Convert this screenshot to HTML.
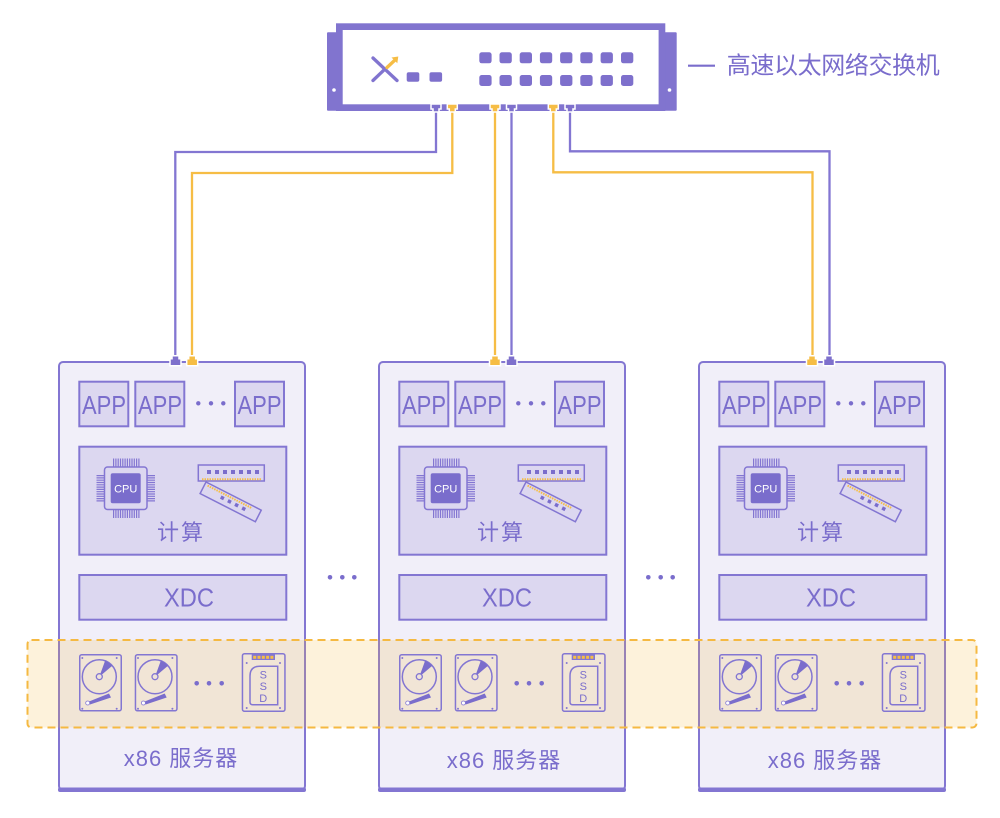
<!DOCTYPE html>
<html><head><meta charset="utf-8"><style>
html,body{margin:0;padding:0;background:#fff;}
svg{display:block;}
text{font-family:"Liberation Sans","Noto Sans CJK SC",sans-serif;fill:#7a6dcc;}
</style></head><body>
<svg width="1000" height="818" viewBox="0 0 1000 818" xmlns="http://www.w3.org/2000/svg">
<defs>
<g id="hdd">
  <rect x="0.75" y="0.75" width="41.5" height="56" rx="2" fill="none" stroke="#8376d2" stroke-width="1.5"/>
  <circle cx="3.3" cy="4" r="1" fill="#8376d2"/><circle cx="37.7" cy="4" r="1" fill="#8376d2"/>
  <circle cx="3.3" cy="54.7" r="1" fill="#8376d2"/><circle cx="37.7" cy="54.7" r="1" fill="#8376d2"/>
  <circle cx="20.3" cy="22.7" r="17" fill="none" stroke="#8376d2" stroke-width="1.5"/>
  <path d="M20.3,22.7 L26.1,6.7 A17,17 0 0 1 33.3,11.8 Z" fill="#7a6dcc"/>
  <circle cx="20.3" cy="22.7" r="3" fill="#efe3d9" stroke="#8376d2" stroke-width="1.3"/>
  <polygon points="10,47.5 30,39.5 32,43.5 11,50.5" fill="#7a6dcc"/>
  <circle cx="8.7" cy="49" r="2" fill="#fff" stroke="#8376d2" stroke-width="0.8"/>
</g>
</defs>

<!-- Switch -->
<rect x="327" y="32.3" width="12" height="78.4" rx="1" fill="#8174cf"/>
<rect x="662" y="32.3" width="14.7" height="78.4" rx="1" fill="#8174cf"/>
<circle cx="334" cy="90" r="1.8" fill="#fff"/>
<circle cx="669.5" cy="90" r="1.8" fill="#fff"/>
<rect x="339.35" y="26.65" width="322.6" height="81" fill="#fff" stroke="#8174cf" stroke-width="6.7"/>
<!-- logo -->
<line x1="373" y1="58" x2="397" y2="80.5" stroke="#8174cf" stroke-width="3.3" stroke-linecap="round"/>
<line x1="373" y1="80.5" x2="385" y2="69" stroke="#8174cf" stroke-width="3.3" stroke-linecap="round"/>
<line x1="387" y1="67.5" x2="395" y2="60" stroke="#f6bd45" stroke-width="3.3" stroke-linecap="round"/>
<polygon points="391.5,57.5 398.3,56.5 397.3,63.3" fill="#f6bd45"/>
<rect x="406.7" y="72.3" width="12.6" height="9.4" rx="2" fill="#7e70cc"/>
<rect x="429.5" y="72.3" width="12.6" height="9.4" rx="2" fill="#7e70cc"/>
<!-- port grid -->
<g fill="#7e70cc">
<rect x="479.3" y="52.3" width="12.3" height="11" rx="2.5"/><rect x="499.5" y="52.3" width="12.3" height="11" rx="2.5"/>
<rect x="519.7" y="52.3" width="12.3" height="11" rx="2.5"/><rect x="539.9" y="52.3" width="12.3" height="11" rx="2.5"/>
<rect x="560.1" y="52.3" width="12.3" height="11" rx="2.5"/><rect x="580.3" y="52.3" width="12.3" height="11" rx="2.5"/>
<rect x="600.6" y="52.3" width="12.3" height="11" rx="2.5"/><rect x="621" y="52.3" width="12.3" height="11" rx="2.5"/>
<rect x="479.3" y="75" width="12.3" height="11" rx="2.5"/><rect x="499.5" y="75" width="12.3" height="11" rx="2.5"/>
<rect x="519.7" y="75" width="12.3" height="11" rx="2.5"/><rect x="539.9" y="75" width="12.3" height="11" rx="2.5"/>
<rect x="560.1" y="75" width="12.3" height="11" rx="2.5"/><rect x="580.3" y="75" width="12.3" height="11" rx="2.5"/>
<rect x="600.6" y="75" width="12.3" height="11" rx="2.5"/><rect x="621" y="75" width="12.3" height="11" rx="2.5"/>
</g>

<!-- label -->
<line x1="688" y1="65.7" x2="715" y2="65.7" stroke="#7a6dcc" stroke-width="2.2"/>
<text x="726.7" y="73.5" font-size="24" textLength="213" lengthAdjust="spacing">高速以太网络交换机</text>

<!-- cables -->
<g fill="none" stroke-width="2.3">
<path d="M436,112 V152 H175.3 V356" stroke="#8376d2"/>
<path d="M452.3,112 V173 H192 V356" stroke="#f6bd45"/>
<path d="M495,112 V356" stroke="#f6bd45"/>
<path d="M511.5,112 V356" stroke="#8376d2"/>
<path d="M553.3,112 V172.3 H812.5 V356" stroke="#f6bd45"/>
<path d="M570,112 V151.3 H829.5 V356" stroke="#8376d2"/>
</g>
<!-- switch bottom ports -->
<g stroke="#fff" stroke-width="1.5">
<path d="M431,104 h10 v5 h-2 v3 h-6 v-3 h-2 z" fill="#7e70cc"/>
<path d="M447.3,104 h10 v5 h-2 v3 h-6 v-3 h-2 z" fill="#f6bd45"/>
<path d="M490,104 h10 v5 h-2 v3 h-6 v-3 h-2 z" fill="#f6bd45"/>
<path d="M506.5,104 h10 v5 h-2 v3 h-6 v-3 h-2 z" fill="#7e70cc"/>
<path d="M548.3,104 h10 v5 h-2 v3 h-6 v-3 h-2 z" fill="#f6bd45"/>
<path d="M565,104 h10 v5 h-2 v3 h-6 v-3 h-2 z" fill="#7e70cc"/>
</g>

<!-- SERVER 1 -->
<g id="srv1">
<rect x="59" y="362" width="246" height="428" rx="4" fill="#f1eff9" stroke="#8376d2" stroke-width="2"/>
<rect x="58" y="787.5" width="248" height="4.5" rx="2" fill="#8376d2"/>
<g fill="#dcd7f0" stroke="#8376d2" stroke-width="2">
<rect x="79.3" y="381.7" width="49" height="44.6"/>
<rect x="135.3" y="381.7" width="49" height="44.6"/>
<rect x="235" y="381.7" width="49" height="44.6"/>
<rect x="79.3" y="446.7" width="207" height="108"/>
<rect x="79.3" y="575" width="207" height="44.7"/>
</g>
<text x="104" y="414" font-size="26" text-anchor="middle" textLength="44" lengthAdjust="spacingAndGlyphs">APP</text>
<text x="160" y="414" font-size="26" text-anchor="middle" textLength="44" lengthAdjust="spacingAndGlyphs">APP</text>
<text x="259.5" y="414" font-size="26" text-anchor="middle" textLength="44" lengthAdjust="spacingAndGlyphs">APP</text>
<circle cx="198.3" cy="403.3" r="2.2" fill="#7a6dcc"/><circle cx="211" cy="403.3" r="2.2" fill="#7a6dcc"/><circle cx="223.3" cy="403.3" r="2.2" fill="#7a6dcc"/>
<!-- CPU -->
<g stroke="#8376d2" fill="none">
<line x1="113" y1="462.5" x2="140" y2="462.5" stroke-width="8" stroke-dasharray="1.2 1.1"/>
<line x1="113" y1="514" x2="140" y2="514" stroke-width="8" stroke-dasharray="1.2 1.1"/>
<line x1="100.5" y1="475" x2="100.5" y2="502" stroke-width="8" stroke-dasharray="1.2 1.1"/>
<line x1="151" y1="475" x2="151" y2="502" stroke-width="8" stroke-dasharray="1.2 1.1"/>
<rect x="104.5" y="467" width="42.5" height="42.5" rx="3" fill="#dcd7f0" stroke-width="1.5"/>
</g>
<rect x="110.7" y="473.3" width="30" height="30" rx="2" fill="#7a6dcc"/>
<text x="125.7" y="492.3" font-size="11" text-anchor="middle" style="fill:#fff">CPU</text>
<!-- RAM -->
<g transform="translate(206,482) rotate(27)">
<rect x="0" y="0" width="62" height="13" fill="#dcd7f0" stroke="#8376d2" stroke-width="1.5"/>
<line x1="3" y1="2.5" x2="52" y2="2.5" stroke="#f6bd45" stroke-width="2" stroke-dasharray="1.5 1"/>
<rect x="20" y="5" width="3.5" height="3.5" fill="#7a6dcc"/><rect x="28" y="5" width="3.5" height="3.5" fill="#7a6dcc"/>
<rect x="36" y="5" width="3.5" height="3.5" fill="#7a6dcc"/><rect x="44" y="5" width="3.5" height="3.5" fill="#7a6dcc"/>
</g>
<rect x="198.3" y="465" width="66" height="16" fill="#dcd7f0" stroke="#8376d2" stroke-width="1.5"/>
<line x1="202" y1="479.3" x2="261" y2="479.3" stroke="#f6bd45" stroke-width="2" stroke-dasharray="1.5 1"/>
<g fill="#7a6dcc">
<rect x="207" y="470" width="4" height="4"/><rect x="215" y="470" width="4" height="4"/><rect x="223" y="470" width="4" height="4"/>
<rect x="231" y="470" width="4" height="4"/><rect x="239" y="470" width="4" height="4"/><rect x="247" y="470" width="4" height="4"/><rect x="255" y="470" width="4" height="4"/>
</g>
<text x="181" y="540" font-size="22" text-anchor="middle" letter-spacing="2">计算</text>
<text x="189" y="606.7" font-size="25.5" text-anchor="middle" textLength="50" lengthAdjust="spacingAndGlyphs">XDC</text>
<text x="181" y="766" font-size="22" text-anchor="middle" letter-spacing="1">x86 服务器</text>
<!-- top ports -->
<g stroke="#fff" stroke-width="1.5">
<path d="M172,355.7 h7 v3 h2 v7 h-11 v-7 h2 z" fill="#7e70cc"/>
<path d="M188.7,355.7 h7 v3 h2 v7 h-11 v-7 h2 z" fill="#f6bd45"/>
</g>
</g>

<!-- SERVER 2 -->
<g transform="translate(320,0)">
<rect x="59" y="362" width="246" height="428" rx="4" fill="#f1eff9" stroke="#8376d2" stroke-width="2"/>
<rect x="58" y="787.5" width="248" height="4.5" rx="2" fill="#8376d2"/>
<g fill="#dcd7f0" stroke="#8376d2" stroke-width="2">
<rect x="79.3" y="381.7" width="49" height="44.6"/>
<rect x="135.3" y="381.7" width="49" height="44.6"/>
<rect x="235" y="381.7" width="49" height="44.6"/>
<rect x="79.3" y="446.7" width="207" height="108"/>
<rect x="79.3" y="575" width="207" height="44.7"/>
</g>
<text x="104" y="414" font-size="26" text-anchor="middle" textLength="44" lengthAdjust="spacingAndGlyphs">APP</text>
<text x="160" y="414" font-size="26" text-anchor="middle" textLength="44" lengthAdjust="spacingAndGlyphs">APP</text>
<text x="259.5" y="414" font-size="26" text-anchor="middle" textLength="44" lengthAdjust="spacingAndGlyphs">APP</text>
<circle cx="198.3" cy="403.3" r="2.2" fill="#7a6dcc"/><circle cx="211" cy="403.3" r="2.2" fill="#7a6dcc"/><circle cx="223.3" cy="403.3" r="2.2" fill="#7a6dcc"/>
<g stroke="#8376d2" fill="none">
<line x1="113" y1="462.5" x2="140" y2="462.5" stroke-width="8" stroke-dasharray="1.2 1.1"/>
<line x1="113" y1="514" x2="140" y2="514" stroke-width="8" stroke-dasharray="1.2 1.1"/>
<line x1="100.5" y1="475" x2="100.5" y2="502" stroke-width="8" stroke-dasharray="1.2 1.1"/>
<line x1="151" y1="475" x2="151" y2="502" stroke-width="8" stroke-dasharray="1.2 1.1"/>
<rect x="104.5" y="467" width="42.5" height="42.5" rx="3" fill="#dcd7f0" stroke-width="1.5"/>
</g>
<rect x="110.7" y="473.3" width="30" height="30" rx="2" fill="#7a6dcc"/>
<text x="125.7" y="492.3" font-size="11" text-anchor="middle" style="fill:#fff">CPU</text>
<g transform="translate(206,482) rotate(27)">
<rect x="0" y="0" width="62" height="13" fill="#dcd7f0" stroke="#8376d2" stroke-width="1.5"/>
<line x1="3" y1="2.5" x2="52" y2="2.5" stroke="#f6bd45" stroke-width="2" stroke-dasharray="1.5 1"/>
<rect x="20" y="5" width="3.5" height="3.5" fill="#7a6dcc"/><rect x="28" y="5" width="3.5" height="3.5" fill="#7a6dcc"/>
<rect x="36" y="5" width="3.5" height="3.5" fill="#7a6dcc"/><rect x="44" y="5" width="3.5" height="3.5" fill="#7a6dcc"/>
</g>
<rect x="198.3" y="465" width="66" height="16" fill="#dcd7f0" stroke="#8376d2" stroke-width="1.5"/>
<line x1="202" y1="479.3" x2="261" y2="479.3" stroke="#f6bd45" stroke-width="2" stroke-dasharray="1.5 1"/>
<g fill="#7a6dcc">
<rect x="207" y="470" width="4" height="4"/><rect x="215" y="470" width="4" height="4"/><rect x="223" y="470" width="4" height="4"/>
<rect x="231" y="470" width="4" height="4"/><rect x="239" y="470" width="4" height="4"/><rect x="247" y="470" width="4" height="4"/><rect x="255" y="470" width="4" height="4"/>
</g>
<text x="181" y="540" font-size="22" text-anchor="middle" letter-spacing="2">计算</text>
<text x="187" y="606.7" font-size="25.5" text-anchor="middle" textLength="50" lengthAdjust="spacingAndGlyphs">XDC</text>
<text x="184" y="768" font-size="22" text-anchor="middle" letter-spacing="1">x86 服务器</text>
<g stroke="#fff" stroke-width="1.5">
<path d="M171.5,355.7 h7 v3 h2 v7 h-11 v-7 h2 z" fill="#f6bd45"/>
<path d="M188,355.7 h7 v3 h2 v7 h-11 v-7 h2 z" fill="#7e70cc"/>
</g>
</g>

<!-- SERVER 3 -->
<g transform="translate(640,0)">
<rect x="59" y="362" width="246" height="428" rx="4" fill="#f1eff9" stroke="#8376d2" stroke-width="2"/>
<rect x="58" y="787.5" width="248" height="4.5" rx="2" fill="#8376d2"/>
<g fill="#dcd7f0" stroke="#8376d2" stroke-width="2">
<rect x="79.3" y="381.7" width="49" height="44.6"/>
<rect x="135.3" y="381.7" width="49" height="44.6"/>
<rect x="235" y="381.7" width="49" height="44.6"/>
<rect x="79.3" y="446.7" width="207" height="108"/>
<rect x="79.3" y="575" width="207" height="44.7"/>
</g>
<text x="104" y="414" font-size="26" text-anchor="middle" textLength="44" lengthAdjust="spacingAndGlyphs">APP</text>
<text x="160" y="414" font-size="26" text-anchor="middle" textLength="44" lengthAdjust="spacingAndGlyphs">APP</text>
<text x="259.5" y="414" font-size="26" text-anchor="middle" textLength="44" lengthAdjust="spacingAndGlyphs">APP</text>
<circle cx="198.3" cy="403.3" r="2.2" fill="#7a6dcc"/><circle cx="211" cy="403.3" r="2.2" fill="#7a6dcc"/><circle cx="223.3" cy="403.3" r="2.2" fill="#7a6dcc"/>
<g stroke="#8376d2" fill="none">
<line x1="113" y1="462.5" x2="140" y2="462.5" stroke-width="8" stroke-dasharray="1.2 1.1"/>
<line x1="113" y1="514" x2="140" y2="514" stroke-width="8" stroke-dasharray="1.2 1.1"/>
<line x1="100.5" y1="475" x2="100.5" y2="502" stroke-width="8" stroke-dasharray="1.2 1.1"/>
<line x1="151" y1="475" x2="151" y2="502" stroke-width="8" stroke-dasharray="1.2 1.1"/>
<rect x="104.5" y="467" width="42.5" height="42.5" rx="3" fill="#dcd7f0" stroke-width="1.5"/>
</g>
<rect x="110.7" y="473.3" width="30" height="30" rx="2" fill="#7a6dcc"/>
<text x="125.7" y="492.3" font-size="11" text-anchor="middle" style="fill:#fff">CPU</text>
<g transform="translate(206,482) rotate(27)">
<rect x="0" y="0" width="62" height="13" fill="#dcd7f0" stroke="#8376d2" stroke-width="1.5"/>
<line x1="3" y1="2.5" x2="52" y2="2.5" stroke="#f6bd45" stroke-width="2" stroke-dasharray="1.5 1"/>
<rect x="20" y="5" width="3.5" height="3.5" fill="#7a6dcc"/><rect x="28" y="5" width="3.5" height="3.5" fill="#7a6dcc"/>
<rect x="36" y="5" width="3.5" height="3.5" fill="#7a6dcc"/><rect x="44" y="5" width="3.5" height="3.5" fill="#7a6dcc"/>
</g>
<rect x="198.3" y="465" width="66" height="16" fill="#dcd7f0" stroke="#8376d2" stroke-width="1.5"/>
<line x1="202" y1="479.3" x2="261" y2="479.3" stroke="#f6bd45" stroke-width="2" stroke-dasharray="1.5 1"/>
<g fill="#7a6dcc">
<rect x="207" y="470" width="4" height="4"/><rect x="215" y="470" width="4" height="4"/><rect x="223" y="470" width="4" height="4"/>
<rect x="231" y="470" width="4" height="4"/><rect x="239" y="470" width="4" height="4"/><rect x="247" y="470" width="4" height="4"/><rect x="255" y="470" width="4" height="4"/>
</g>
<text x="181" y="540" font-size="22" text-anchor="middle" letter-spacing="2">计算</text>
<text x="191" y="606.7" font-size="25.5" text-anchor="middle" textLength="50" lengthAdjust="spacingAndGlyphs">XDC</text>
<text x="185" y="768" font-size="22" text-anchor="middle" letter-spacing="1">x86 服务器</text>
<g stroke="#fff" stroke-width="1.5">
<path d="M168.5,355.7 h7 v3 h2 v7 h-11 v-7 h2 z" fill="#f6bd45"/>
<path d="M185.5,355.7 h7 v3 h2 v7 h-11 v-7 h2 z" fill="#7e70cc"/>
</g>
</g>

<!-- dots between servers -->
<g fill="#7a6dcc">
<circle cx="330" cy="577.3" r="2.3"/><circle cx="342.3" cy="577.3" r="2.3"/><circle cx="354.3" cy="577.3" r="2.3"/>
<circle cx="648.3" cy="577.3" r="2.3"/><circle cx="660.7" cy="577.3" r="2.3"/><circle cx="672.7" cy="577.3" r="2.3"/>
</g>

<!-- storage band -->
<rect x="27.5" y="640" width="949" height="87.5" rx="4" fill="#f5b942" fill-opacity="0.19" stroke="#f5b942" stroke-width="2" stroke-dasharray="8 5"/>

<!-- storage icons -->
<g id="stor">
<use href="#hdd" transform="translate(79,654)"/>
<use href="#hdd" transform="translate(134.7,654)"/>
<circle cx="196.7" cy="683.3" r="2.3" fill="#7a6dcc"/><circle cx="209" cy="683.3" r="2.3" fill="#7a6dcc"/><circle cx="221.7" cy="683.3" r="2.3" fill="#7a6dcc"/>
<g transform="translate(241.7,653)">
  <rect x="0.75" y="0.75" width="42.5" height="57.5" rx="2" fill="none" stroke="#8376d2" stroke-width="1.5"/>
  <rect x="10" y="1.5" width="23.3" height="5.5" fill="#8376d2"/>
  <g fill="#f6bd45"><rect x="11.5" y="2.8" width="3" height="3"/><rect x="15.8" y="2.8" width="3" height="3"/><rect x="20.1" y="2.8" width="3" height="3"/><rect x="24.4" y="2.8" width="3" height="3"/><rect x="28.7" y="2.8" width="3" height="3"/></g>
  <circle cx="5" cy="10" r="1" fill="#8376d2"/><circle cx="38.3" cy="10" r="1" fill="#8376d2"/>
  <circle cx="5" cy="55" r="1" fill="#8376d2"/><circle cx="38.3" cy="55" r="1" fill="#8376d2"/>
  <path d="M18,13.3 H36 V51.7 H11 Q8.3,51.7 8.3,49 V23 Q8.3,13.3 18,13.3 Z" fill="none" stroke="#8376d2" stroke-width="1.5"/>
  <text x="21.6" y="25.5" font-size="11" text-anchor="middle">S</text>
  <text x="21.6" y="37" font-size="11" text-anchor="middle">S</text>
  <text x="21.6" y="49" font-size="11" text-anchor="middle">D</text>
</g>
</g>
<g transform="translate(320,0)">
<use href="#hdd" transform="translate(79,654)"/>
<use href="#hdd" transform="translate(134.7,654)"/>
<circle cx="196.7" cy="683.3" r="2.3" fill="#7a6dcc"/><circle cx="209" cy="683.3" r="2.3" fill="#7a6dcc"/><circle cx="221.7" cy="683.3" r="2.3" fill="#7a6dcc"/>
<g transform="translate(241.7,653)">
  <rect x="0.75" y="0.75" width="42.5" height="57.5" rx="2" fill="none" stroke="#8376d2" stroke-width="1.5"/>
  <rect x="10" y="1.5" width="23.3" height="5.5" fill="#8376d2"/>
  <g fill="#f6bd45"><rect x="11.5" y="2.8" width="3" height="3"/><rect x="15.8" y="2.8" width="3" height="3"/><rect x="20.1" y="2.8" width="3" height="3"/><rect x="24.4" y="2.8" width="3" height="3"/><rect x="28.7" y="2.8" width="3" height="3"/></g>
  <circle cx="5" cy="10" r="1" fill="#8376d2"/><circle cx="38.3" cy="10" r="1" fill="#8376d2"/>
  <circle cx="5" cy="55" r="1" fill="#8376d2"/><circle cx="38.3" cy="55" r="1" fill="#8376d2"/>
  <path d="M18,13.3 H36 V51.7 H11 Q8.3,51.7 8.3,49 V23 Q8.3,13.3 18,13.3 Z" fill="none" stroke="#8376d2" stroke-width="1.5"/>
  <text x="21.6" y="25.5" font-size="11" text-anchor="middle">S</text>
  <text x="21.6" y="37" font-size="11" text-anchor="middle">S</text>
  <text x="21.6" y="49" font-size="11" text-anchor="middle">D</text>
</g>
</g>
<g transform="translate(640,0)">
<use href="#hdd" transform="translate(79,654)"/>
<use href="#hdd" transform="translate(134.7,654)"/>
<circle cx="196.7" cy="683.3" r="2.3" fill="#7a6dcc"/><circle cx="209" cy="683.3" r="2.3" fill="#7a6dcc"/><circle cx="221.7" cy="683.3" r="2.3" fill="#7a6dcc"/>
<g transform="translate(241.7,653)">
  <rect x="0.75" y="0.75" width="42.5" height="57.5" rx="2" fill="none" stroke="#8376d2" stroke-width="1.5"/>
  <rect x="10" y="1.5" width="23.3" height="5.5" fill="#8376d2"/>
  <g fill="#f6bd45"><rect x="11.5" y="2.8" width="3" height="3"/><rect x="15.8" y="2.8" width="3" height="3"/><rect x="20.1" y="2.8" width="3" height="3"/><rect x="24.4" y="2.8" width="3" height="3"/><rect x="28.7" y="2.8" width="3" height="3"/></g>
  <circle cx="5" cy="10" r="1" fill="#8376d2"/><circle cx="38.3" cy="10" r="1" fill="#8376d2"/>
  <circle cx="5" cy="55" r="1" fill="#8376d2"/><circle cx="38.3" cy="55" r="1" fill="#8376d2"/>
  <path d="M18,13.3 H36 V51.7 H11 Q8.3,51.7 8.3,49 V23 Q8.3,13.3 18,13.3 Z" fill="none" stroke="#8376d2" stroke-width="1.5"/>
  <text x="21.6" y="25.5" font-size="11" text-anchor="middle">S</text>
  <text x="21.6" y="37" font-size="11" text-anchor="middle">S</text>
  <text x="21.6" y="49" font-size="11" text-anchor="middle">D</text>
</g>
</g>
</svg>
</body></html>
